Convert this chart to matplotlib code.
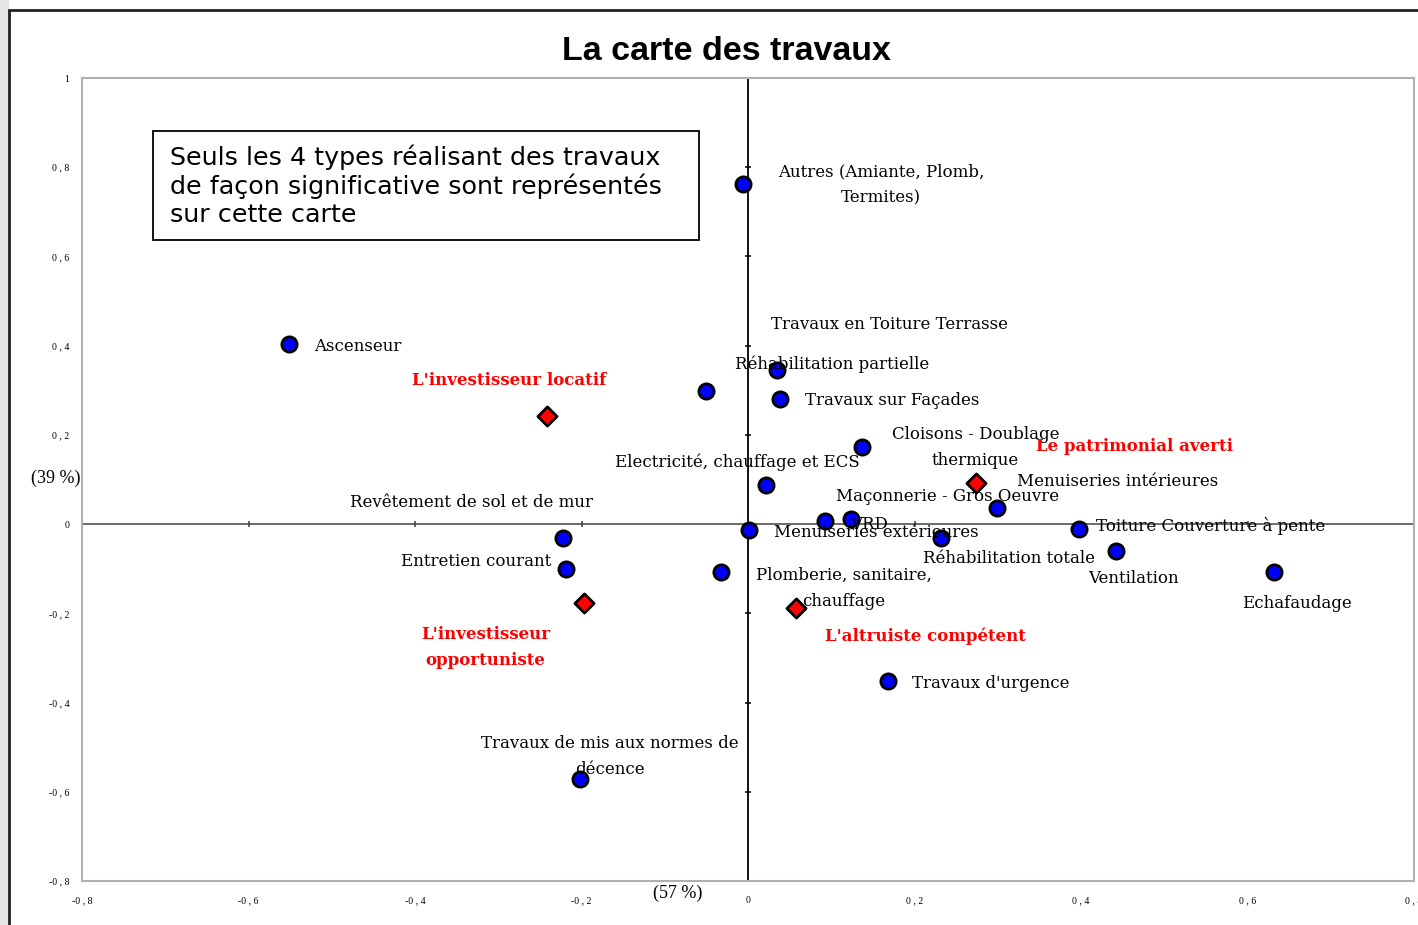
import matplotlib
matplotlib.use("Agg")
import matplotlib.pyplot as plt
from matplotlib.patches import Rectangle
from matplotlib.ticker import FuncFormatter
import numpy as np

# positions des modalités (travaux)
trav_x = [-0.006, -0.551, -0.050, 0.035, 0.038, 0.137, 0.022, 0.092, 0.124, 0.001,
          0.232, 0.299, 0.398, 0.442, 0.632, -0.222, -0.219, -0.032, 0.168, -0.202]
trav_y = [0.762, 0.404, 0.298, 0.345, 0.280, 0.173, 0.087, 0.007, 0.011, -0.013,
          -0.031, 0.036, -0.011, -0.061, -0.108, -0.031, -0.101, -0.108, -0.352, -0.572]

# types d'investisseurs
types_x = [-0.241, 0.274, -0.197, 0.058]
types_y = [0.242, 0.092, -0.177, -0.188]

# étiquettes (texte, x, y, alignement)
labels = [
    ("Autres (Amiante, Plomb,\nTermites)", 0.160, 0.761, "center"),
    ("Ascenseur", -0.521, 0.399, "left"),
    ("Travaux en Toiture Terrasse", 0.028, 0.448, "left"),
    ("Réhabilitation partielle", -0.016, 0.359, "left"),
    ("Travaux sur Façades", 0.068, 0.276, "left"),
    ("Cloisons - Doublage\nthermique", 0.273, 0.172, "center"),
    ("Electricité, chauffage et ECS", -0.160, 0.139, "left"),
    ("Menuiseries intérieures", 0.323, 0.096, "left"),
    ("Maçonnerie - Gros Oeuvre", 0.106, 0.061, "left"),
    ("Revêtement de sol et de mur", -0.478, 0.049, "left"),
    ("VRD", 0.123, 0.0, "left"),
    ("Menuiseries extérieures", 0.031, -0.018, "left"),
    ("Toiture Couverture à pente", 0.418, -0.004, "left"),
    ("Réhabilitation totale", 0.210, -0.076, "left"),
    ("Entretien courant", -0.417, -0.083, "left"),
    ("Plomberie, sanitaire,\nchauffage", 0.115, -0.145, "center"),
    ("Ventilation", 0.408, -0.123, "left"),
    ("Echafaudage", 0.593, -0.177, "left"),
    ("Travaux d'urgence", 0.197, -0.357, "left"),
    ("Travaux de mis aux normes de\ndécence", -0.166, -0.520, "center"),
]

type_labels = [
    ("L'investisseur locatif", -0.404, 0.321, "left"),
    ("Le patrimonial averti", 0.346, 0.173, "left"),
    ("L'investisseur\nopportuniste", -0.315, -0.277, "center"),
    ("L'altruiste compétent", 0.092, -0.251, "left"),
]

x_ticks = np.round(np.arange(-0.8, 0.81, 0.2), 1)
y_ticks = np.round(np.arange(-0.8, 1.01, 0.2), 1)

serif = "DejaVu Serif"
fig = plt.figure(figsize=(14.18, 9.25), dpi=100)

# cadre extérieur
fig.patches.append(Rectangle((0, 0), 9 / 1418, 1, transform=fig.transFigure,
                             facecolor="#e6e6e6", edgecolor="none"))
fig.patches.append(Rectangle((9 / 1418, -0.01), 1.0, 1 - 10 / 925 + 0.01,
                             transform=fig.transFigure, facecolor="none",
                             edgecolor="#222222", linewidth=2))

ax = fig.add_axes([82 / 1418, 44 / 925, 1332 / 1418, 803 / 925])
ax.set_xlim(-0.8, 0.8)
ax.set_ylim(-0.8, 1.0)
for s in ax.spines.values():
    s.set_color("#b0b0b0")
    s.set_linewidth(1.5)


def fmt(v, pos):
    if abs(v) < 1e-9:
        return "0"
    if abs(v - 1) < 1e-9:
        return "1"
    return f"{v:.1f}".replace(".", " , ")


ax.set_xticks(x_ticks)
ax.set_yticks(y_ticks)
ax.xaxis.set_major_formatter(FuncFormatter(fmt))
ax.yaxis.set_major_formatter(FuncFormatter(fmt))
ax.tick_params(length=0, labelsize=7)
ax.tick_params(axis="x", pad=11)
ax.tick_params(axis="y", pad=9)
for t in ax.get_xticklabels() + ax.get_yticklabels():
    t.set_fontfamily("Liberation Serif")

# axes centraux
ax.axhline(0, color="#606060", lw=1.3, zorder=1)
ax.axvline(0, color="black", lw=1.3, zorder=1)
ax.plot(x_ticks, np.zeros(len(x_ticks)), linestyle="none", marker="|",
        markersize=5, color="#404040", mew=1.1, zorder=1)
ax.plot(np.zeros(len(y_ticks)), y_ticks, linestyle="none", marker="_",
        markersize=5, color="black", mew=1.1, zorder=1)

ax.scatter(trav_x, trav_y, s=120, c="#0000ff", edgecolors="black",
           linewidths=2, zorder=3)
ax.scatter(types_x, types_y, s=95, marker="D", c="#ff0000",
           edgecolors="black", linewidths=2, zorder=3)

for txt, x, y, ha in labels:
    ax.text(x, y, txt, ha=ha, va="center", multialignment="center",
            fontsize=12, family=serif, color="black", linespacing=1.7, zorder=4)

for txt, x, y, ha in type_labels:
    ax.text(x, y, txt, ha=ha, va="center", multialignment="center",
            fontsize=12, family=serif, fontweight="bold", color="#ff0000",
            linespacing=1.7, zorder=4)

# pourcentages d'inertie
ax.text(-0.832, 0.103, "(39 %)", ha="center", va="center", fontsize=13,
        family="Liberation Serif", clip_on=False)
ax.text(-0.085, -0.827, "(57 %)", ha="center", va="center", fontsize=13,
        family="Liberation Serif", clip_on=False)

# encadré
ax.add_patch(Rectangle((0.0533, 0.798), 0.41, 0.136, transform=ax.transAxes,
                       facecolor="white", edgecolor="black", lw=1.3, zorder=5))
ax.text(0.0661, 0.866, "Seuls les 4 types réalisant des travaux\n"
        "de façon significative sont représentés\nsur cette carte",
        transform=ax.transAxes, ha="left", va="center", fontsize=18.3,
        family="DejaVu Sans", linespacing=1.2, zorder=6)

fig.text(726.5 / 1418, 1 - 51 / 925, "La carte des travaux", ha="center",
         va="center", fontsize=24.5, fontweight="bold", family="Liberation Sans")

fig.savefig("out.png", dpi=100)
